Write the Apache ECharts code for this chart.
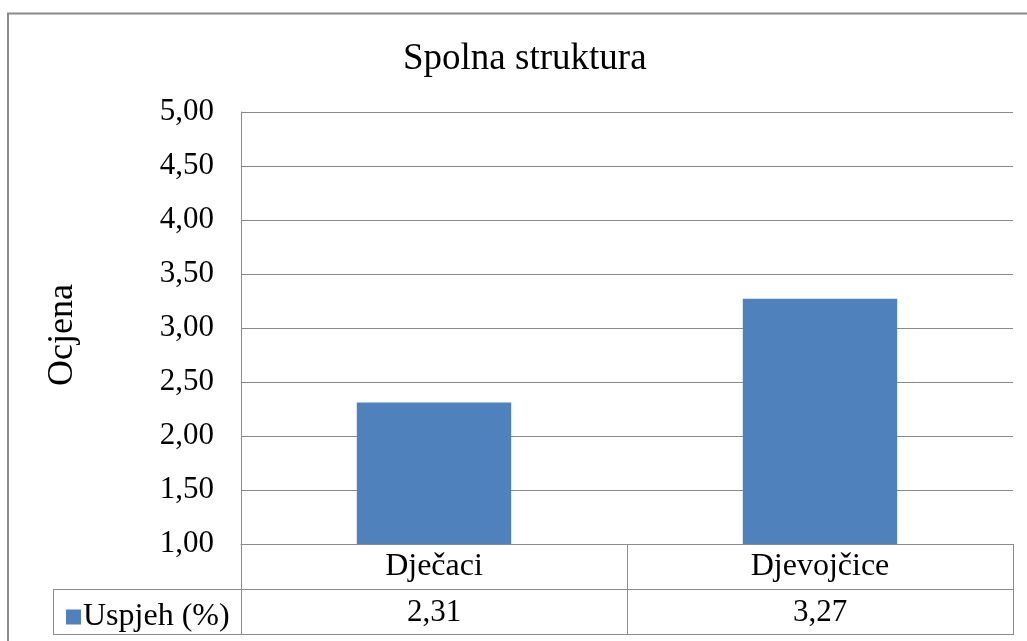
<!DOCTYPE html>
<html>
<head>
<meta charset="utf-8">
<script src="https://cdn.jsdelivr.net/npm/echarts@6/dist/echarts.min.js"></script>
<style>
html,body{margin:0;padding:0;background:#fff;}
#c{width:1027px;height:641px;}
</style>
</head>
<body>
<div id="c"></div>
<script>
// ---- data ----
const categories = ['Dječaci', 'Djevojčice'];
const seriesName = 'Uspjeh (%)';
const values = [2.31, 3.27];
const yTicks = { min: 1, max: 5, interval: 0.5 };
const titleText = 'Spolna struktura';
const yAxisName = 'Ocjena';

// ---- layout ----
const FONT = '"Liberation Serif", "Times New Roman", serif';
const L = 241, R = 1013, T = 112, B = 544, ROW1 = 589, ROW2 = 634, LEGL = 53;
const W = 1027;
const GRAY = '#8a8a8a';
const fmt = v => v.toFixed(2).replace('.', ',');

const chart = echarts.init(document.getElementById('c'), null, { renderer: 'canvas' });

const mid = (L + R) / 2;
function line(x1, y1, x2, y2, w) {
  return { type: 'line', shape: { x1, y1, x2, y2 }, style: { stroke: GRAY, lineWidth: w || 1 }, silent: true };
}

chart.setOption({
  backgroundColor: '#fff',
  animation: false,
  textStyle: { fontFamily: FONT },
  title: {
    text: titleText,
    left: 398, top: 36,
    textStyle: { fontFamily: FONT, fontSize: 37, fontWeight: 'normal', color: '#000' }
  },
  legend: {
    data: [seriesName],
    left: 61, top: 596,
    icon: 'rect', itemWidth: 15, itemHeight: 15, itemGap: 0,
    textStyle: { fontFamily: FONT, fontSize: 32, color: '#000', padding: [0, 0, 0, -3] }
  },
  grid: [
    { left: L, right: W - R, top: T, height: B - T, containLabel: false },
    { left: L, right: W - R, top: ROW1, height: ROW2 - ROW1, containLabel: false }
  ],
  xAxis: [
    {
      type: 'category', data: categories, gridIndex: 0,
      axisLine: { show: true, lineStyle: { color: GRAY, width: 1 } },
      axisTick: { show: false },
      axisLabel: { fontFamily: FONT, fontSize: 32, color: '#000', margin: 23, verticalAlign: 'middle' }
    },
    {
      type: 'category', data: categories, gridIndex: 1, show: false
    }
  ],
  yAxis: [
    {
      type: 'value', gridIndex: 0, min: yTicks.min, max: yTicks.max, interval: yTicks.interval,
      name: yAxisName, nameLocation: 'middle', nameRotate: 90, nameGap: 160,
      nameTextStyle: { fontFamily: FONT, fontSize: 36, color: '#000', padding: [0, 14, 0, 0] },
      axisLine: { show: true, lineStyle: { color: GRAY, width: 1 } },
      axisTick: { show: false },
      splitLine: { show: true, lineStyle: { color: GRAY, width: 1 } },
      axisLabel: { fontFamily: FONT, fontSize: 31, color: '#000', margin: 27, formatter: fmt }
    },
    { type: 'value', gridIndex: 1, min: 0, max: 1, show: false }
  ],
  series: [
    {
      name: seriesName, type: 'bar', xAxisIndex: 0, yAxisIndex: 0,
      data: values, barWidth: '40%',
      itemStyle: { color: '#4F81BD' }
    },
    {
      name: 'table', type: 'custom', xAxisIndex: 1, yAxisIndex: 1,
      data: values.map((v, i) => [i, 0.5, v]),
      silent: true,
      renderItem: (params, api) => {
        const p = api.coord([api.value(0), api.value(1)]);
        return {
          type: 'text',
          style: {
            x: p[0], y: p[1] + 1,
            text: fmt(api.value(2)),
            fill: '#000',
            font: '31px ' + FONT,
            align: 'center', verticalAlign: 'middle'
          }
        };
      }
    }
  ],
  graphic: [
    { type: 'rect', shape: { x: 8, y: 13.5, width: 1100, height: 800 }, style: { fill: 'none', stroke: GRAY, lineWidth: 2 }, silent: true, z: -1 },
    line(LEGL, ROW1 + 0.5, R, ROW1 + 0.5),
    line(LEGL, ROW2 + 0.5, R, ROW2 + 0.5),
    line(LEGL + 0.5, ROW1, LEGL + 0.5, ROW2 + 1),
    line(L + 0.5, B, L + 0.5, ROW2 + 1),
    line(Math.round(mid) + 0.5, B, Math.round(mid) + 0.5, ROW2 + 1),
    line(R + 0.5, B, R + 0.5, ROW2 + 1)
  ]
});
</script>
</body>
</html>
